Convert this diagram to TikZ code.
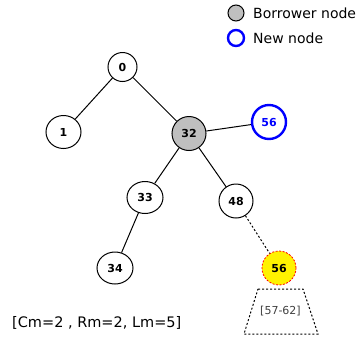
\documentclass[tikz,border=0pt]{standalone}
\usepackage{fontspec}
\usetikzlibrary{shapes.geometric}
\setmainfont{DejaVu Sans}
\tikzset{
  tnode/.style={draw, circle, line width=1pt, minimum size=34pt, inner sep=0pt,
    font=\fontsize{11}{13}\selectfont\bfseries},
  borrower/.style={tnode, fill=black!25},
  newnode/.style={tnode, draw=blue, line width=2.4pt, text=blue},
  movednode/.style={tnode, fill=yellow, draw=red, line width=0.8pt, dash pattern=on 2pt off 1.5pt},
  dots/.style={line width=1pt, dash pattern=on 2pt off 2pt},
  legendtext/.style={anchor=west, font=\fontsize{14}{16}\selectfont},
}
\begin{document}
\begin{tikzpicture}[x=1pt, y=-1pt]
  \useasboundingbox (0,0) rectangle (359,338);
  % legend
  \node[draw, circle, fill=black!25, line width=1pt, minimum size=16pt, inner sep=0pt] (lgray) at (236,13) {};
  \node[draw=blue, circle, line width=2.4pt, minimum size=16pt, inner sep=0pt] (lblue) at (236,38) {};
  \node[legendtext, inner sep=0pt] (lgraytext) at (253,13) {Borrower node};
  \node[legendtext, inner sep=0pt] (lbluetext) at (253,38) {New node};
  % tree
  \node[tnode, minimum size=29pt] (0) at (122.5,67) {0};
  \node[tnode, ellipse, minimum width=35pt, minimum height=33pt] (1) at (63.5,132) {1};
  \node[borrower] (32) at (189,133.5) {32};
  \node[newnode] (56n) at (269,122) {56};
  \node[tnode, ellipse, minimum width=36pt, minimum height=32pt] (33) at (145,197.5) {33};
  \node[tnode] (48) at (236,201) {48};
  \node[tnode, ellipse, minimum width=36pt, minimum height=32pt] (34) at (115,268) {34};
  \node[movednode] (56m) at (279,268) {56};
  \begin{scope}[line width=1pt]
    \draw (0) to (1);
    \draw (0) to (32);
    \draw (32) to (56n);
    \draw (32) to (33);
    \draw (32) to (48);
    \draw (33) to (34);
    \draw[dots] (48) to (56m);
  \end{scope}
  % subtree range
  \draw[dots] (258,289) -- (303,289) -- (318,334) -- (244,334) -- cycle;
  \node[font=\fontsize{11}{13}\selectfont, text=black!75] (range) at (280.5,311) {[57-62]};
  % parameters
  \node[legendtext, inner sep=0pt, font=\fontsize{14.5}{16}\selectfont] (params) at (12,323) {[Cm=2 , Rm=2, Lm=5]};
\end{tikzpicture}
\end{document}
